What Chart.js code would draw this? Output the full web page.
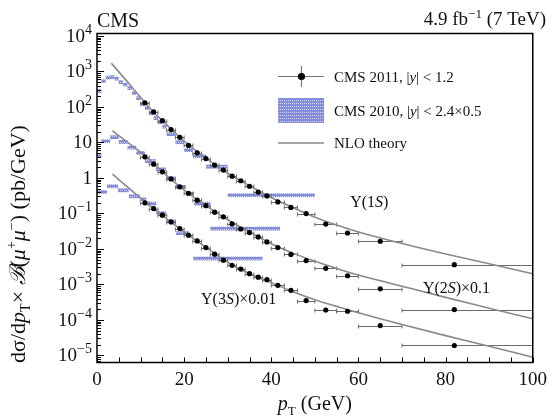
<!DOCTYPE html>
<html>
<head>
<meta charset="utf-8">
<script src="https://cdn.jsdelivr.net/npm/chart.js@4.4.1/dist/chart.umd.min.js"></script>
<style>
  html, body { margin: 0; padding: 0; background: #fff; }
</style>
</head>
<body>
<canvas id="myChart" width="553" height="419"></canvas>
<script>
// CMS 2011, |y| < 1.2 : pT bins (GeV) and plotted position
const binLo2011 = [10, 12, 14, 16, 18, 20, 22, 24, 26, 28, 30, 32, 34, 36, 38, 40, 43, 46, 50, 55, 60, 70];
const binHi2011 = [12, 14, 16, 18, 20, 22, 24, 26, 28, 30, 32, 34, 36, 38, 40, 43, 46, 50, 55, 60, 70, 100];
const ptMean2011 = [11, 13, 15, 17, 19, 21, 23, 25, 27, 29, 31, 33, 35, 37, 39, 41.5, 44.5, 48, 52.5, 57.5, 65, 82];
const ups1S2011 = [131, 72, 41, 23, 13.9, 8.2, 5.1, 3.5, 2.3, 1.66, 1.12, 0.83, 0.58, 0.40, 0.31, 0.21, 0.147, 0.099, 0.050, 0.028, 0.0164, 0.0036];
const ups2S2011 = [3.93, 2.44, 1.48, 0.935, 0.56, 0.37, 0.236, 0.165, 0.108, 0.080, 0.0506, 0.0363, 0.0289, 0.0217, 0.0157, 0.0109, 0.0070, 0.0047, 0.00284, 0.00175, 0.00075, 0.000195];
const ups3S2011 = [0.198, 0.137, 0.089, 0.0575, 0.0375, 0.0243, 0.0168, 0.0109, 0.0071, 0.0048, 0.00345, 0.0027, 0.0020, 0.0016, 0.00136, 0.00094, 0.00068, 0.00035, 0.00019, 0.000175, 0.000069, 0.000019];

// CMS 2010, |y| < 2.4 (x0.5) : bins and values
const binLo1S2010 = [0, 1, 2, 3, 4, 5, 6, 7, 8, 9, 10, 11, 12, 13, 14, 15, 16, 18, 20, 22, 25, 30];
const binHi1S2010 = [1, 2, 3, 4, 5, 6, 7, 8, 9, 10, 11, 12, 13, 14, 15, 16, 18, 20, 22, 25, 30, 50];
const ups1S2010 = [281, 537, 675, 697, 630, 500, 428, 341, 245, 178, 121, 93, 67, 48.5, 37.4, 27.9, 17.2, 10.2, 6.1, 4.1, 2.08, 0.327];
const binLo2S2010 = [0, 1, 3, 5, 7, 9, 11, 13.5, 15.8, 18.1, 20.4, 22.3, 26];
const binHi2S2010 = [1, 3, 5, 7, 9, 11, 13.5, 15.8, 18.1, 20.4, 22.3, 26, 42];
const ups2S2010 = [4.4, 10.9, 14.1, 10.4, 7.2, 5.1, 3.0, 1.75, 0.97, 0.56, 0.36, 0.19, 0.0375];
const binLo3S2010 = [0, 2.3, 4.8, 7.3, 9.8, 11.3, 13.6, 15.8, 18.1, 22.1];
const binHi3S2010 = [2.3, 4.8, 7.3, 9.8, 11.3, 13.6, 15.8, 18.1, 21.1, 38];
const ups3S2010 = [0.405, 0.585, 0.45, 0.305, 0.25, 0.19, 0.103, 0.060, 0.028, 0.0054];
const relErr2010 = 0.12;

// NLO theory curves
const theoryPt1S = [3.3, 5, 7.5, 10, 12.5, 15, 20, 25, 30, 35, 40, 45, 50, 55, 60, 70, 80, 90, 100];
const theory1S = [1700, 970, 430, 186, 82, 41, 10.8, 3.6, 1.35, 0.60, 0.28, 0.145, 0.078, 0.047, 0.030, 0.0142, 0.0072, 0.0038, 0.0020];
const theoryPt = [3.55, 5, 7.5, 10, 12.5, 15, 20, 25, 30, 35, 40, 45, 50, 55, 60, 70, 80, 90, 100];
const theory2S = [21.3, 15.6, 9.1, 5.3, 2.9, 1.5, 0.45, 0.165, 0.066, 0.030, 0.0140, 0.0076, 0.00447, 0.00282, 0.00184, 0.00089, 0.00043, 0.000214, 0.000107];
const theory3S = [1.28, 0.90, 0.49, 0.27, 0.15, 0.088, 0.030, 0.011, 0.0042, 0.0020, 0.00112, 0.00062, 0.00037, 0.00024, 0.000158, 0.000074, 0.000036, 0.000018, 0.0000089];

// decades labelled on the y axis
const yDecades = [-5, -4, -3, -2, -1, 0, 1, 2, 3, 4];

const serif = "'Liberation Serif', 'Times New Roman', serif";

const ctx = document.getElementById('myChart').getContext('2d');

function makeHatch() {
    const p = document.createElement('canvas');
    p.width = 2;
    p.height = 3;
    const g = p.getContext('2d');
    g.fillStyle = 'rgb(132,140,220)';
    g.fillRect(0, 0, 2, 3);
    g.fillStyle = 'rgb(206,210,246)';
    g.fillRect(0, 1, 1, 1);
    return ctx.createPattern(p, 'repeat');
}
const hatch = makeHatch();

// draw a run of text pieces; returns total width
function richText(c, parts, x, y, align) {
    let total = 0;
    parts.forEach(p => {
        c.font = (p.italic ? 'italic ' : '') + p.size + 'px ' + serif;
        p.w = c.measureText(p.t).width;
        total += p.w;
    });
    let cx = x;
    if (align === 'center') cx = x - total / 2;
    if (align === 'right') cx = x - total;
    c.textAlign = 'left';
    c.textBaseline = 'alphabetic';
    parts.forEach(p => {
        c.font = (p.italic ? 'italic ' : '') + p.size + 'px ' + serif;
        c.fillText(p.t, cx, y + (p.dy || 0));
        cx += p.w;
    });
    return total;
}

const toPts = (xs, ys) => xs.map((x, i) => ({ x: x, y: ys[i] }));

const cmsPlugin = {
    id: 'cmsDecor',
    beforeDatasetsDraw(chart) {
        const c = chart.ctx;
        const xs = chart.scales.x, ys = chart.scales.y;
        const a = chart.chartArea;
        c.save();
        c.beginPath();
        c.rect(a.left, a.top, a.right - a.left, a.bottom - a.top);
        c.clip();

        // 2010 boxes
        c.fillStyle = hatch;
        [[binLo1S2010, binHi1S2010, ups1S2010],
         [binLo2S2010, binHi2S2010, ups2S2010],
         [binLo3S2010, binHi3S2010, ups3S2010]].forEach(([lo, hi, v]) => {
            v.forEach((val, i) => {
                const x0 = xs.getPixelForValue(lo[i]);
                const x1 = xs.getPixelForValue(hi[i]);
                const y0 = ys.getPixelForValue(val * (1 + relErr2010));
                const y1 = ys.getPixelForValue(val * (1 - relErr2010));
                c.fillRect(x0, y0, x1 - x0, y1 - y0);
            });
        });

        // 2011 horizontal error bars
        c.strokeStyle = '#6a6a6a';
        c.lineWidth = 1;
        [ups1S2011, ups2S2011, ups3S2011].forEach(v => {
            v.forEach((val, i) => {
                const x0 = xs.getPixelForValue(binLo2011[i]);
                const x1 = xs.getPixelForValue(binHi2011[i]);
                const y = Math.round(ys.getPixelForValue(val)) + 0.5;
                c.beginPath();
                c.moveTo(x0, y); c.lineTo(x1, y);
                c.moveTo(x0, y - 2); c.lineTo(x0, y + 2);
                c.moveTo(x1, y - 2); c.lineTo(x1, y + 2);
                c.stroke();
            });
        });
        c.restore();
    },
    afterDraw(chart) {
        const c = chart.ctx;
        const xs = chart.scales.x, ys = chart.scales.y;
        const a = chart.chartArea;
        c.save();

        // frame
        c.strokeStyle = '#000';
        c.lineWidth = 1.5;
        c.strokeRect(a.left, a.top, a.right - a.left, a.bottom - a.top);

        // inward ticks
        c.lineWidth = 1;
        ys.ticks.forEach(t => {
            const y = Math.round(ys.getPixelForValue(t.value)) + 0.5;
            const len = t.major ? 7 : 4;
            c.beginPath();
            c.moveTo(a.left, y);
            c.lineTo(a.left + len, y);
            c.stroke();
        });
        xs.ticks.forEach(t => {
            const x = Math.round(xs.getPixelForValue(t.value)) + 0.5;
            c.beginPath();
            c.moveTo(x, a.bottom);
            c.lineTo(x, a.bottom - 5);
            c.stroke();
        });

        c.fillStyle = '#111';
        // y tick labels with real superscripts
        yDecades.forEach(e => {
            const y = ys.getPixelForValue(Math.pow(10, e)) + 6;
            let parts;
            if (e === 0) parts = [{ t: '1', size: 19 }];
            else if (e === 1) parts = [{ t: '10', size: 19 }];
            else parts = [{ t: '10', size: 19 }, { t: String(e).replace('-', '\u2212'), size: 14, dy: -8 }];
            richText(c, parts, a.left - 5, y, 'right');
        });

        // header
        richText(c, [{ t: 'CMS', size: 20 }], a.left, 27, 'left');
        richText(c, [{ t: '4.9 fb', size: 19 }, { t: '\u22121', size: 13, dy: -7 }, { t: ' (7 TeV)', size: 19 }], 546, 25, 'right');

        // axis titles
        richText(c, [{ t: 'p', size: 20, italic: true }, { t: 'T', size: 13, dy: 5 }, { t: ' (GeV)', size: 20 }],
            (a.left + a.right) / 2, 410, 'center');
        c.save();
        c.translate(25, 244);
        c.rotate(-Math.PI / 2);
        richText(c, [
            { t: 'd\u03C3/d', size: 22 },
            { t: 'p', size: 22, italic: true },
            { t: 'T', size: 14, dy: 5 },
            { t: '\u00D7 ', size: 22 },
            { t: '\u212C', size: 22, italic: true },
            { t: '(', size: 22 },
            { t: '\u03BC', size: 22, italic: true },
            { t: '+', size: 14, dy: -9 },
            { t: '\u03BC', size: 22, italic: true },
            { t: '\u2212', size: 14, dy: -9 },
            { t: ') (pb/GeV)', size: 22 }
        ], 0, 0, 'center');
        c.restore();

        // curve labels, anchored in data coordinates
        const lab = (parts, px, py) => richText(c, parts, xs.getPixelForValue(px), ys.getPixelForValue(py) + 5, 'center');
        lab([{ t: '\u03A5(1', size: 16 }, { t: 'S', size: 16, italic: true }, { t: ')', size: 16 }], 62.5, 0.207);
        lab([{ t: '\u03A5(2', size: 16 }, { t: 'S', size: 16, italic: true }, { t: ')\u00D70.1', size: 16 }], 82.5, 0.00078);
        lab([{ t: '\u03A5(3', size: 16 }, { t: 'S', size: 16, italic: true }, { t: ')\u00D70.01', size: 16 }], 32.5, 0.00038);

        // legend
        const lx0 = 278, lx1 = 324, tx = 334;
        c.strokeStyle = '#777';
        c.lineWidth = 1.2;
        c.beginPath();
        c.moveTo(lx0, 76.5); c.lineTo(lx1, 76.5);
        c.moveTo(301.5, 66); c.lineTo(301.5, 87);
        c.stroke();
        c.fillStyle = '#000';
        c.beginPath();
        c.arc(301.5, 76.5, 3.6, 0, Math.PI * 2);
        c.fill();
        c.fillStyle = hatch;
        c.fillRect(lx0, 98, lx1 - lx0, 25);
        c.strokeStyle = '#8a8a8a';
        c.lineWidth = 1.6;
        c.beginPath();
        c.moveTo(lx0, 143); c.lineTo(lx1, 143);
        c.stroke();
        c.fillStyle = '#111';
        richText(c, [{ t: 'CMS 2011, |', size: 15 }, { t: 'y', size: 15, italic: true }, { t: '| < 1.2', size: 15 }], tx, 82, 'left');
        richText(c, [{ t: 'CMS 2010, |', size: 15 }, { t: 'y', size: 15, italic: true }, { t: '| < 2.4\u00D70.5', size: 15 }], tx, 116, 'left');
        richText(c, [{ t: 'NLO theory', size: 15 }], tx, 148, 'left');

        c.restore();
    }
};

const theoryStyle = { showLine: true, borderColor: '#8a8a8a', borderWidth: 1.6, pointRadius: 0, cubicInterpolationMode: 'monotone', order: 2 };
const dataStyle = { showLine: false, pointRadius: 2.6, backgroundColor: '#000', borderColor: '#000', borderWidth: 0, order: 1 };

new Chart(ctx, {
    type: 'scatter',
    data: {
        datasets: [
            Object.assign({ label: 'NLO theory 1S', data: toPts(theoryPt1S, theory1S) }, theoryStyle),
            Object.assign({ label: 'NLO theory 2S', data: toPts(theoryPt, theory2S) }, theoryStyle),
            Object.assign({ label: 'NLO theory 3S', data: toPts(theoryPt, theory3S) }, theoryStyle),
            Object.assign({ label: 'CMS 2011 1S', data: toPts(ptMean2011, ups1S2011) }, dataStyle),
            Object.assign({ label: 'CMS 2011 2S', data: toPts(ptMean2011, ups2S2011) }, dataStyle),
            Object.assign({ label: 'CMS 2011 3S', data: toPts(ptMean2011, ups3S2011) }, dataStyle)
        ]
    },
    options: {
        responsive: false,
        animation: false,
        layout: { padding: { left: 0, top: 33.5, right: 16, bottom: 0 } },
        plugins: {
            legend: { display: false },
            tooltip: { enabled: false }
        },
        scales: {
            x: {
                type: 'linear',
                min: 0,
                max: 100,
                afterBuildTicks: (scale) => {
                    const t = [];
                    for (let v = 0; v <= 100; v += 5) t.push({ value: v });
                    scale.ticks = t;
                },
                afterFit: (scale) => { scale.height = 56.5; },
                grid: { display: false, drawTicks: false },
                border: { display: false },
                ticks: {
                    autoSkip: false,
                    maxRotation: 0,
                    padding: 6,
                    color: '#111',
                    font: { family: serif, size: 19 },
                    callback: (v) => (v % 20 === 0 ? String(v) : '')
                }
            },
            y: {
                type: 'logarithmic',
                min: 6.3e-6,
                max: 1.17e4,
                afterBuildTicks: (scale) => {
                    const t = [];
                    for (let e = -6; e <= 4; e++) {
                        for (let m = 1; m <= 9; m++) {
                            const v = m * Math.pow(10, e);
                            if (v >= scale.min && v <= scale.max) t.push({ value: v, major: m === 1 });
                        }
                    }
                    scale.ticks = t;
                },
                afterFit: (scale) => { scale.width = 97; },
                grid: { display: false, drawTicks: false },
                border: { display: false },
                ticks: { display: false }
            }
        }
    },
    plugins: [cmsPlugin]
});
</script>
</body>
</html>
